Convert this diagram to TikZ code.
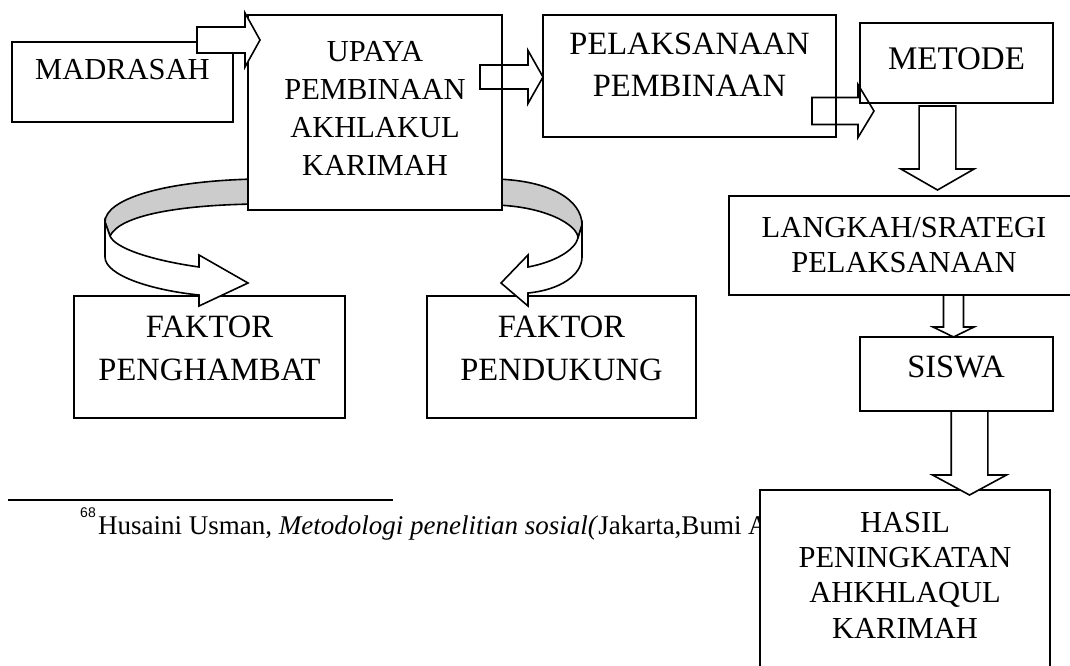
\documentclass[tikz,border=0pt]{standalone}
\usepackage{fontspec}
\setmainfont{Liberation Serif}
\newfontfamily\fnsans{Liberation Sans}
\newcommand{\rarr}[7]{\draw[#1] (#2,#5-#6) -- (#3,#5-#6) -- (#3,#5-#7) -- (#4,#5) -- (#3,#5+#7) -- (#3,#5+#6) -- (#2,#5+#6) -- cycle;}
\newcommand{\darr}[7]{\draw[#1] (#5-#6,#2) -- (#5-#6,#3) -- (#5-#7,#3) -- (#5,#4) -- (#5+#7,#3) -- (#5+#6,#3) -- (#5+#6,#2) -- cycle;}
\tikzset{
  box/.style={draw, line width=1.6pt, fill=white, rectangle, inner sep=0pt, outer sep=0pt, anchor=north west},
  lbl/.style={inner sep=0pt, anchor=base},
  barrow/.style={draw, line width=1.6pt, fill=white},
  barrowo/.style={draw, line width=1.6pt},
  ribbon/.style={draw, line width=1.6pt, fill=white},
  ribbong/.style={draw, line width=1.6pt, fill=black!20},
  fa/.style={font=\fontsize{30.5}{34}\selectfont},
  fb/.style={font=\fontsize{32.5}{36}\selectfont},
}
\begin{document}
\begin{tikzpicture}[x=1pt,y=-1pt]
\useasboundingbox (0,0) rectangle (1070,666);
\clip (0,0) rectangle (1070,666);
% footnote
\coordinate (fnl) at (8,500);
\coordinate (fnr) at (393,500);
\draw[line width=1.8pt] (fnl) -- (fnr);
\node[lbl, anchor=base east] (fnnum) at (96,517) {\fnsans\fontsize{14}{16}\selectfont 68};
\node[lbl, anchor=base west] (fn) at (98,534) {\fontsize{27}{30}\selectfont Husaini Usman, \textit{Metodologi penelitian sosial(}Jakarta,Bumi A};
% gray ribbon parts (behind the central box)
\draw[ribbong] (256,179) .. controls (160,181) and (105,200) .. (105,222) -- (110,236) .. controls (120,215) and (180,205) .. (256,204) -- cycle;
\draw[ribbong] (494,179) .. controls (550,180) and (582,200) .. (582,225) -- (578,238) .. controls (578,225) and (545,206) .. (494,205) -- cycle;
% boxes
\node[box, minimum width=221pt, minimum height=80pt] (mad) at (12,42) {};
\node[box, minimum width=254pt, minimum height=195pt] (upaya) at (248,15) {};
\node[box, minimum width=293pt, minimum height=122pt] (pel) at (543,15) {};
\node[box, minimum width=193pt, minimum height=80pt] (met) at (860,23) {};
\node[box, minimum width=350pt, minimum height=99pt] (lang) at (729,196) {};
\node[box, minimum width=193pt, minimum height=74pt] (siswa) at (860,337) {};
\node[box, minimum width=290pt, minimum height=200pt] (hasil) at (760,490) {};
\node[box, minimum width=271pt, minimum height=122pt] (fak1) at (74,296) {};
\node[box, minimum width=269pt, minimum height=122pt] (fak2) at (427,296) {};
% texts
\node[lbl, fa] (tmad) at (122.5,80) {MADRASAH};
\node[lbl, fa] (tup1) at (375,62) {UPAYA};
\node[lbl, fa] (tup2) at (375,100) {PEMBINAAN};
\node[lbl, fa] (tup3) at (375,137) {AKHLAKUL};
\node[lbl, fa] (tup4) at (375,175) {KARIMAH};
\node[lbl, fb] (tpel1) at (689.5,55) {PELAKSANAAN};
\node[lbl, fb] (tpel2) at (689.5,97) {PEMBINAAN};
\node[lbl, font=\fontsize{33}{38}\selectfont] (tmet) at (956.5,70) {METODE};
\node[lbl, fa] (tlang1) at (904,237) {LANGKAH/SRATEGI};
\node[lbl, fa] (tlang2) at (904,272) {PELAKSANAAN};
\node[lbl, font=\fontsize{32.5}{36}\selectfont] (tsis) at (956,377) {SISWA};
\node[lbl, fb] (tfa1) at (209.5,337) {FAKTOR};
\node[lbl, fb] (tfa2) at (209.5,380) {PENGHAMBAT};
\node[lbl, fb] (tfb1) at (561.5,337) {FAKTOR};
\node[lbl, fb] (tfb2) at (561.5,380) {PENDUKUNG};
\node[lbl, fa] (th1) at (905,532) {HASIL};
\node[lbl, fa] (th2) at (905,567) {PENINGKATAN};
\node[lbl, fa] (th3) at (905,602) {AHKHLAQUL};
\node[lbl, fa] (th4) at (905,638) {KARIMAH};
% white ribbon parts with heads
\draw[ribbon] (105,222) -- (105,257) .. controls (105,275) and (150,290) .. (199,295) -- (199,306) -- (248,283) -- (199,255) -- (199,267) .. controls (150,260) and (115,248) .. (110,236) -- cycle;
\draw[ribbon] (582,225) -- (582,257) .. controls (582,275) and (560,290) .. (528,293) -- (528,306) -- (501,283) -- (528,255) -- (528,267) .. controls (555,262) and (575,250) .. (578,238) -- cycle;
% block arrows
\rarr{barrow}{197}{245}{260}{40}{13}{27}
\rarr{barrowo}{480}{528}{543}{77}{12}{26.5}
\rarr{barrowo}{812}{858}{874}{111}{13.5}{26.5}
\darr{barrow}{106}{169}{190}{937.5}{18.4}{36.6}
\darr{barrow}{295}{327}{337}{953.5}{10}{20.5}
\darr{barrow}{411}{475}{495}{969.5}{18.3}{37}
\end{tikzpicture}
\end{document}
